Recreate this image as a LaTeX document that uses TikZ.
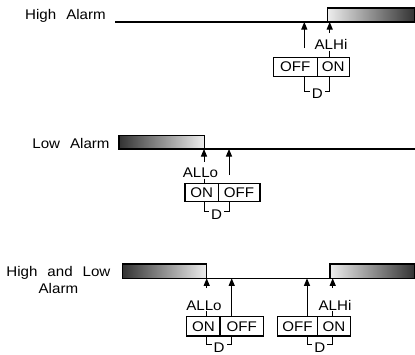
\documentclass[tikz,border=0pt]{standalone}
\usepackage{fontspec}
\setmainfont{Liberation Sans}[FakeStretch=1.08]
\usetikzlibrary{arrows.meta}
\newcommand{\labfont}{\fontsize{14}{16.5}\selectfont}
\begin{document}
\begin{tikzpicture}[x=1pt,y=-1pt,
  lab/.style={font=\labfont, inner sep=0pt},
  cell/.style={draw, line width=1.1pt, inner sep=0pt, text height=10pt, text depth=0pt, font=\labfont},
  baseln/.style={line width=1.2pt},
  arr/.style={line width=1pt, -{Triangle[length=7.5pt,width=6pt]}},
  tick/.style={line width=1pt},
  barhi/.style={draw, line width=1.1pt, left color=black!7, right color=black!80},
  barlo/.style={draw, line width=1.1pt, left color=black!80, right color=black!7},
  dlab/.style={font=\labfont, inner sep=1.8pt, text height=10pt, text depth=0pt},
]
\useasboundingbox (0,0) rectangle (415,354);

% ---------------- Row 1: High Alarm ----------------
\node[lab, anchor=base] (t1) at (65.5,19.6) {High\hspace{10pt}Alarm};
\path[barhi] (327.7,8) rectangle (414.4,22);
\coordinate (b1s) at (115,22);
\coordinate (b1e) at (415,22);
\draw[baseln] (b1s) -- (b1e);
\node[cell, minimum width=44pt, minimum height=18.3pt] (h1off) at (295.3,66.9) {OFF};
\node[cell, minimum width=32pt, minimum height=18.3pt] (h1on) at (333.3,66.9) {ON};
\node[lab, anchor=base] (alhi1) at (331,49.2) {ALHi};
\coordinate (a1p) at (304.3,22);
\coordinate (a1q) at (304.3,48);
\draw[arr] (a1q) -- (a1p);
\coordinate (a1r) at (329.7,22);
\coordinate (a1s) at (329.7,33);
\draw[arr] (a1s) -- (a1r);
\draw[tick] (329.7,50.5) -- (h1on.north -| a1r);
\node[dlab] (d1) at (317.3,93.5) {D};
\draw[tick] (h1off.south -| a1p) |- ([yshift=1.8pt]d1.west);
\draw[tick] (h1on.south -| a1r) |- ([yshift=1.8pt]d1.east);

% ---------------- Row 2: Low Alarm ----------------
\node[lab, anchor=base] (t2) at (71,148) {Low\hspace{10pt}Alarm};
\path[barlo] (119,135.7) rectangle (204.2,149);
\coordinate (b2s) at (119,149);
\coordinate (b2e) at (415,149);
\draw[baseln] (b2s) -- (b2e);
\node[cell, minimum width=33.3pt, minimum height=17.7pt] (l2on) at (201.6,192.2) {ON};
\node[cell, minimum width=41.7pt, minimum height=17.7pt] (l2off) at (239.1,192.2) {OFF};
\node[lab, anchor=base] (allo2) at (200.5,177.2) {ALLo};
\coordinate (a2p) at (204,149);
\coordinate (a2q) at (204,161.7);
\draw[arr] (a2q) -- (a2p);
\coordinate (a2r) at (229,149);
\coordinate (a2s) at (229,175);
\draw[arr] (a2s) -- (a2r);
\draw[tick] (204,178.5) -- (l2on.north -| a2p);
\node[dlab] (d2) at (216.5,214.2) {D};
\draw[tick] (l2on.south -| a2p) |- ([yshift=2.5pt]d2.west);
\draw[tick] (l2off.south -| a2r) |- ([yshift=2.5pt]d2.east);

% ---------------- Row 3: High and Low Alarm ----------------
\node[lab, align=center] (t3) at (58.4,280) {High\hspace{10pt}and\hspace{10pt}Low\\Alarm};
\path[barlo] (122.3,264) rectangle (206.7,278.3);
\path[barhi] (330,264) rectangle (414.4,278.3);
\coordinate (b3s) at (122.3,278.3);
\coordinate (b3e) at (415,278.3);
\draw[baseln] (b3s) -- (b3e);
\node[cell, minimum width=33.3pt, minimum height=19.3pt] (l3on) at (203.35,326.35) {ON};
\node[cell, minimum width=43.3pt, minimum height=19.3pt] (l3off) at (241.65,326.35) {OFF};
\node[cell, minimum width=39.6pt, minimum height=19.3pt] (h3off) at (297.5,326.35) {OFF};
\node[cell, minimum width=33.4pt, minimum height=19.3pt] (h3on) at (334,326.35) {ON};
\node[lab, anchor=base] (allo3) at (204,310) {ALLo};
\node[lab, anchor=base] (alhi3) at (335,310) {ALHi};
\coordinate (a3p) at (206.7,278.3);
\coordinate (a3q) at (206.7,288);
\draw[arr] (a3q) -- (a3p);
\coordinate (a3r) at (231.7,278.3);
\draw[arr] (l3off.north -| a3r) -- (a3r);
\coordinate (a3t) at (307,278.3);
\draw[arr] (h3off.north -| a3t) -- (a3t);
\coordinate (a3u) at (332.7,278.3);
\coordinate (a3v) at (332.7,288);
\draw[arr] (a3v) -- (a3u);
\draw[tick] (206.7,311.3) -- (l3on.north -| a3p);
\draw[tick] (332.7,311.3) -- (h3on.north -| a3u);
\node[dlab] (d3l) at (219.2,347.5) {D};
\node[dlab] (d3r) at (319.8,347.5) {D};
\draw[tick] (l3on.south -| a3p) |- ([yshift=3.5pt]d3l.west);
\draw[tick] (l3off.south -| a3r) |- ([yshift=3.5pt]d3l.east);
\draw[tick] (h3off.south -| a3t) |- ([yshift=3.5pt]d3r.west);
\draw[tick] (h3on.south -| a3u) |- ([yshift=3.5pt]d3r.east);
\end{tikzpicture}
\end{document}
